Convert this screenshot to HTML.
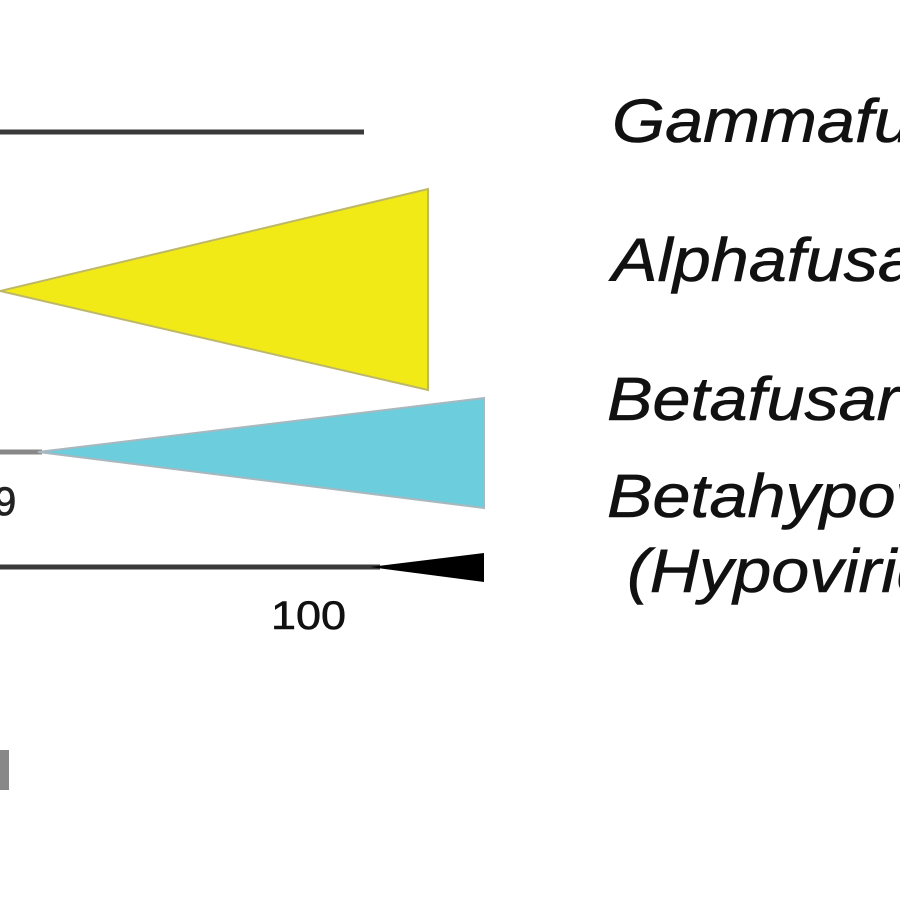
<!DOCTYPE html>
<html><head><style>
html,body{margin:0;padding:0;background:#fff;width:900px;height:900px;overflow:hidden}
</style></head><body>
<svg width="900" height="900" viewBox="0 0 900 900" xmlns="http://www.w3.org/2000/svg">
<rect width="900" height="900" fill="#fff"/>
<line x1="0" y1="132" x2="364" y2="132" stroke="#3a3a3a" stroke-width="5"/>
<polygon points="0,291 428,189 428,390" fill="#f2ea16" stroke="#bdb868" stroke-width="2"/>
<line x1="0" y1="452" x2="42" y2="452" stroke="#888" stroke-width="5"/>
<polygon points="38,452 484,398 484,508" fill="#6ccddc" stroke="#a8b8be" stroke-width="2"/>
<line x1="0" y1="567" x2="380" y2="567" stroke="#3a3a3a" stroke-width="5"/>
<polygon points="370,567 484,553 484,582" fill="#000"/>
<text x="-6" y="515" font-family="Liberation Sans, sans-serif" font-size="40" fill="#222" stroke="#222" stroke-width="0.8">9</text>
<rect x="0" y="750" width="9" height="40" fill="#888"/>
<text x="271" y="629" font-family="Liberation Sans, sans-serif" font-size="40" fill="#111" stroke="#111" stroke-width="0.6" textLength="75" lengthAdjust="spacingAndGlyphs">100</text>
<g font-family="Liberation Sans, sans-serif" font-style="italic" font-size="61" fill="#111" stroke="#111" stroke-width="0.6">
<g transform="translate(612,142) scale(1.12,1)"><text x="0" y="0">Gammafusariviridae</text></g>
<g transform="translate(612,281) scale(1.12,1)"><text x="0" y="0">Alphafusariviridae</text></g>
<g transform="translate(607,420) scale(1.12,1)"><text x="0" y="0">Betafusariviridae</text></g>
<g transform="translate(607,517) scale(1.12,1)"><text x="0" y="0">Betahypoviridae</text></g>
<g transform="translate(627,592) scale(1.12,1)"><text x="0" y="0">(Hypoviridae)</text></g>
</g>
</svg>
</body></html>
